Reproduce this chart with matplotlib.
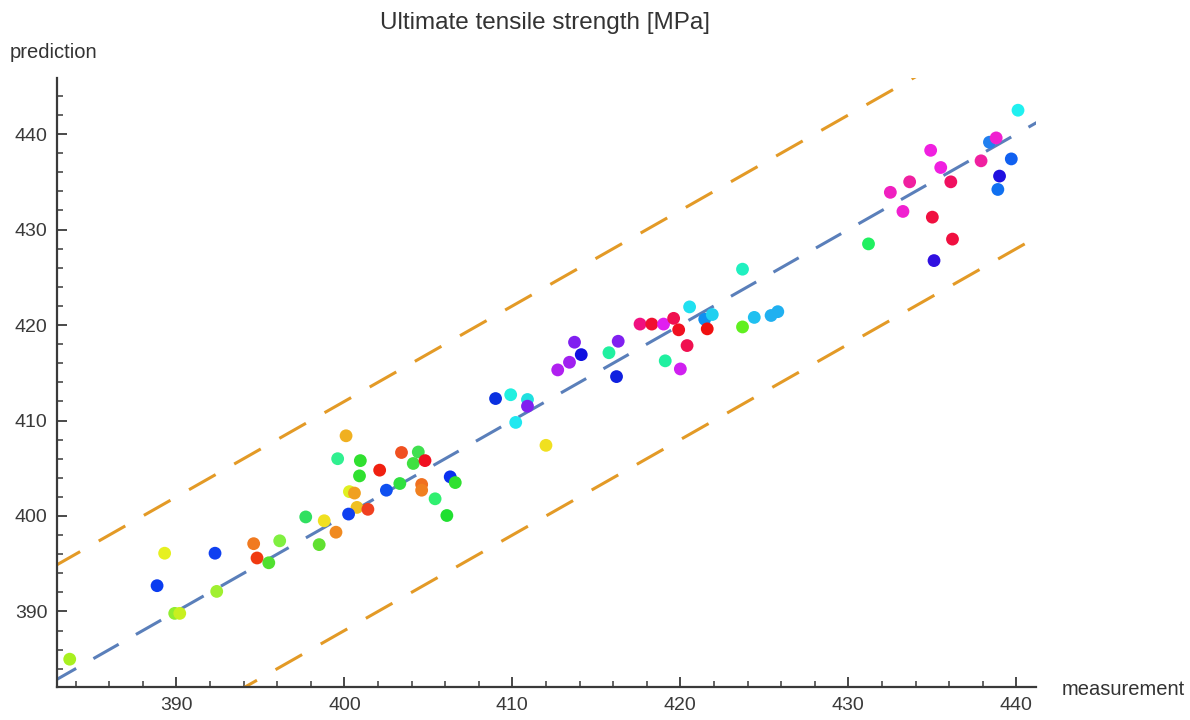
import numpy as np
import matplotlib.pyplot as plt
import matplotlib.ticker as ticker

plt.rcParams['font.family'] = ['Liberation Sans', 'DejaVu Sans']

# measured vs predicted ultimate tensile strength [MPa]
measurement = [383.65, 388.85, 389.3, 389.9, 390.2, 392.3, 392.4, 394.6, 394.8, 395.5,
               396.15, 397.7, 398.5, 398.8, 399.5, 400.1, 399.6, 400.95, 400.9, 402.1,
               403.4, 404.4, 404.1, 404.8, 402.5, 403.3, 404.6, 404.6, 406.3, 406.6,
               405.4, 406.1, 400.3, 400.6, 400.75, 401.4, 400.25, 409.0, 409.9, 410.9,
               410.9, 410.2, 412.0, 412.7, 413.4, 413.7, 414.1, 415.75, 416.3, 416.2,
               417.6, 418.3, 419.0, 419.6, 419.9, 420.55, 421.45, 421.9, 421.6, 420.4,
               419.1, 420.0, 423.7, 424.4, 425.4, 425.8, 423.7, 440.1, 434.9, 435.5,
               433.65, 432.5, 433.25, 436.1, 435.0, 436.2, 435.1, 431.2, 437.9, 438.4,
               438.8, 439.7, 439.0, 438.9]
prediction = [385.0, 392.7, 396.1, 389.8, 389.8, 396.1, 392.1, 397.1, 395.6, 395.1,
              397.4, 399.9, 397.0, 399.5, 398.3, 408.4, 406.0, 405.8, 404.2, 404.8,
              406.65, 406.7, 405.5, 405.8, 402.7, 403.4, 403.3, 402.7, 404.1, 403.5,
              401.8, 400.05, 402.55, 402.4, 400.9, 400.7, 400.2, 412.3, 412.7, 412.2,
              411.5, 409.8, 407.4, 415.3, 416.1, 418.2, 416.9, 417.1, 418.3, 414.6,
              420.1, 420.1, 420.1, 420.7, 419.5, 421.9, 420.6, 421.1, 419.6, 417.85,
              416.25, 415.4, 419.8, 420.8, 421.0, 421.4, 425.85, 442.5, 438.3, 436.5,
              435.0, 433.9, 431.9, 435.0, 431.3, 429.0, 426.75, 428.5, 437.2, 439.15,
              439.6, 437.4, 435.6, 434.2]
colors = ['#a8f020', '#0a3cf0', '#e6f020', '#90ee30', '#c8f020', '#1040f0', '#a0f030', '#f07a20', '#f03a10', '#50e030',
          '#80f040', '#30e060', '#60e030', '#f0e020', '#f08a20', '#f0b020', '#30f090', '#30e030', '#30e030', '#f02010',
          '#f05020', '#40e050', '#40e040', '#f01020', '#1050f0', '#30e040', '#f07020', '#f08020', '#0a30f0', '#30e030',
          '#30f070', '#20e030', '#e0f020', '#f0a020', '#f0c020', '#f04020', '#1040f0', '#0a30e0', '#20f0e0', '#20e0e0',
          '#8020f0', '#20e8f0', '#f0e020', '#b020f0', '#a020f0', '#8020f0', '#1010e0', '#20f0a0', '#8020f0', '#1020e0',
          '#f01080', '#f01030', '#e020f0', '#f01050', '#f01020', '#20e0f0', '#1090f0', '#20d0f0', '#f01010', '#f01050',
          '#20f0a0', '#d020f0', '#60f020', '#20c0f0', '#20b0f0', '#20b0f0', '#20f0c0', '#20f0f0', '#f020e0', '#f020e0',
          '#f020a0', '#f020c0', '#f020d0', '#f01060', '#f01040', '#f01040', '#3010e0', '#20f060', '#f020a0', '#2080f0',
          '#f020d0', '#1060f0', '#2010e0', '#1070f0']

band = 12  # +/- tolerance band [MPa]
x_range = np.array([380, 445])

fig = plt.figure(figsize=(11.9, 7.2), dpi=100)
ax = fig.add_axes([0.048, 0.046, 0.823, 0.846])

ax.plot(x_range, x_range, color='#5a7fba', lw=2.2, ls=(0, (9.5, 6.5)))
ax.plot(x_range, x_range + band, color='#e39a26', lw=2.2, ls=(0, (10, 7)))
ax.plot(x_range, x_range - band, color='#e39a26', lw=2.2, ls=(0, (10, 7)))
ax.scatter(measurement, prediction, c=colors, s=85, linewidths=0, zorder=3)

ax.set_xlim(382.9, 441.2)
ax.set_ylim(382.1, 445.9)

ax.xaxis.set_major_locator(ticker.MultipleLocator(10))
ax.xaxis.set_minor_locator(ticker.MultipleLocator(2))
ax.yaxis.set_major_locator(ticker.MultipleLocator(10))
ax.yaxis.set_minor_locator(ticker.MultipleLocator(2))

for side in ['top', 'right']:
    ax.spines[side].set_visible(False)
for side in ['left', 'bottom']:
    ax.spines[side].set_color('#3a3a3a')
    ax.spines[side].set_linewidth(1.6)

ax.tick_params(which='major', direction='in', length=7, width=1.3, color='#3a3a3a',
               labelsize=14, labelcolor='#3a3a3a', pad=7)
ax.tick_params(which='minor', direction='in', length=4, width=1.1, color='#3a3a3a')

fig.text(0.458, 0.968, 'Ultimate tensile strength [MPa]', ha='center', va='center',
         fontsize=17.5, color='#333333')
fig.text(0.008, 0.927, 'prediction', ha='left', va='center', fontsize=14.5, color='#333333')
fig.text(0.892, 0.042, 'measurement', ha='left', va='center', fontsize=14.5, color='#333333')

fig.savefig('out.png', dpi=100)
